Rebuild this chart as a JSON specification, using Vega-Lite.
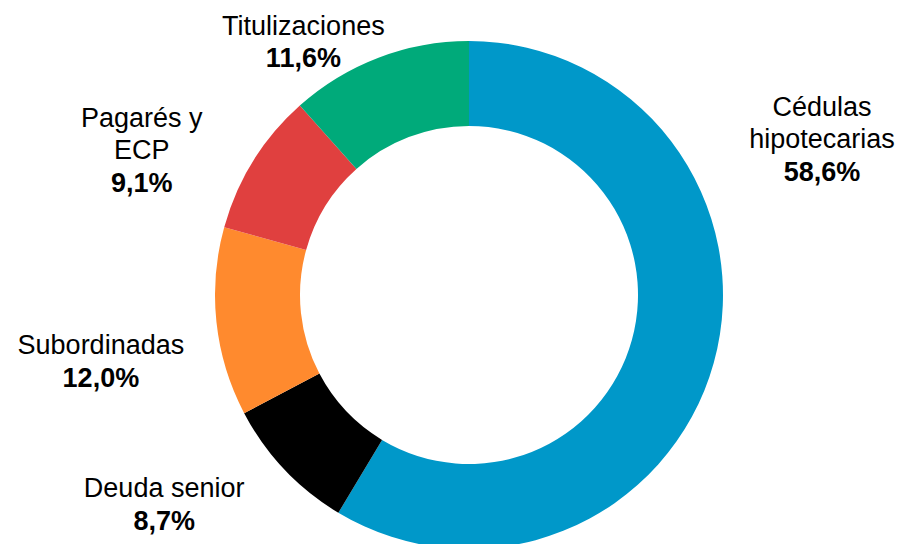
{
  "$schema": "https://vega.github.io/schema/vega-lite/v6.json",
  "width": 866,
  "height": 498,
  "autosize": {"type": "none"},
  "padding": {"left": 36, "top": 46, "right": 0, "bottom": 0},
  "background": "white",
  "config": {"view": {"stroke": null}},
  "data": {
    "values": [
      {"ord": 1, "segment": "Cédulas hipotecarias", "name": "Cédulas\nhipotecarias", "value": 58.6, "pct": "58,6%"},
      {"ord": 2, "segment": "Deuda senior", "name": "Deuda senior", "value": 8.7, "pct": "8,7%"},
      {"ord": 3, "segment": "Subordinadas", "name": "Subordinadas", "value": 12.0, "pct": "12,0%"},
      {"ord": 4, "segment": "Pagarés y ECP", "name": "Pagarés y\nECP", "value": 9.1, "pct": "9,1%"},
      {"ord": 5, "segment": "Titulizaciones", "name": "Titulizaciones", "value": 11.6, "pct": "11,6%"}
    ]
  },
  "encoding": {
    "theta": {"field": "value", "type": "quantitative", "stack": true},
    "order": {"field": "ord", "type": "quantitative", "sort": "ascending"}
  },
  "layer": [
    {
      "mark": {"type": "arc", "outerRadius": 254, "innerRadius": 169},
      "encoding": {
        "color": {
          "field": "segment",
          "type": "nominal",
          "scale": {
            "domain": ["Cédulas hipotecarias", "Deuda senior", "Subordinadas", "Pagarés y ECP", "Titulizaciones"],
            "range": ["#0098C9", "#000000", "#FF8A2E", "#E0403F", "#00AA7A"]
          },
          "legend": null
        }
      }
    },
    {
      "mark": {
        "type": "text",
        "radius": 330,
        "font": "Liberation Sans",
        "fontSize": 27,
        "lineHeight": 32,
        "baseline": "line-bottom",
        "align": "center",
        "lineBreak": "\n",
        "color": "#000000",
        "dx": {"expr": "datum.ord == 1 ? 35 : datum.ord == 2 ? -65 : datum.ord == 3 ? -40 : datum.ord == 4 ? -47 : -48"},
        "dy": {"expr": "datum.ord == 1 ? -259 : datum.ord == 2 ? -17 : datum.ord == 3 ? 32 : datum.ord == 4 ? 14 : 56"}
      },
      "encoding": {"text": {"field": "name", "type": "nominal"}}
    },
    {
      "mark": {
        "type": "text",
        "radius": 330,
        "font": "Liberation Sans",
        "fontSize": 27,
        "fontWeight": "bold",
        "lineHeight": 31,
        "baseline": "line-top",
        "align": "center",
        "color": "#000000",
        "dx": {"expr": "datum.ord == 1 ? 35 : datum.ord == 2 ? -65 : datum.ord == 3 ? -40 : datum.ord == 4 ? -47 : -48"},
        "dy": {"expr": "datum.ord == 1 ? -225 : datum.ord == 2 ? -15 : datum.ord == 3 ? 34 : datum.ord == 4 ? 48 : 57"}
      },
      "encoding": {"text": {"field": "pct", "type": "nominal"}}
    }
  ]
}
